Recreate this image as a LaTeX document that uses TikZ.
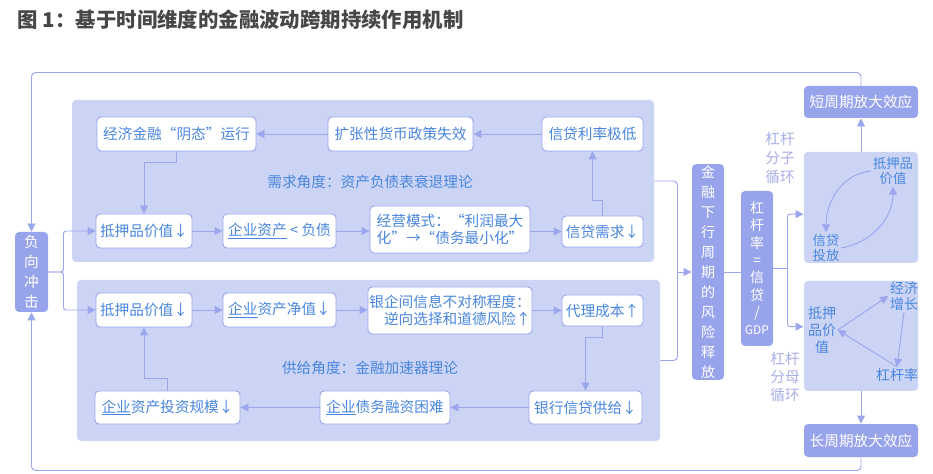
\documentclass[tikz,border=0pt]{standalone}
\usepackage{fontspec}
\setmainfont{Noto Sans CJK SC}
\usetikzlibrary{arrows.meta}
\definecolor{panelc}{HTML}{CBD4F4}
\definecolor{linec}{HTML}{9BA6EC}
\definecolor{darkc}{HTML}{97A4EC}
\definecolor{textc}{HTML}{4A86DE}
\definecolor{labc}{HTML}{A8AFE6}
\definecolor{titc}{HTML}{474747}

\begin{document}
\begin{tikzpicture}[x=0.75pt,y=-0.75pt,font=\fontsize{11pt}{13pt}\selectfont,line width=0.7pt,
    sz/.style 2 args={minimum width=#1*0.75pt,minimum height=#2*0.75pt},
    box/.style={draw=linec,fill=white,rounded corners=3pt,text=textc,inner sep=1pt,align=center},
    dark/.style={fill=darkc,rounded corners=3pt,text=white,inner sep=1pt,align=center},
    panel/.style={fill=panelc,rounded corners=3pt,inner sep=0pt},
    lbl/.style={text=textc,align=center,inner sep=1pt},
    line/.style={draw=linec},
    arr/.style={draw=linec,-{Triangle[length=6pt,width=6pt]}}]
        \useasboundingbox (0,0) rectangle (933,474);
        \node[anchor=west,text=titc,font=\fontsize{15.3pt}{17pt}\selectfont\bfseries] (tit) at (13,20) {图 1：基于时间维度的金融波动跨期持续作用机制};
        % two panels
        \node[panel,sz={582}{162}] (d0) at (363,181) {};
        \node[panel,sz={583}{161}] (s0) at (368.5,360.5) {};
        \node[lbl] (dt) at (370,182) {需求角度：资产负债表衰退理论};
        \node[lbl] (st) at (370,368) {供给角度：金融加速器理论};
        \node[dark,sz={33}{80},font=\fontsize{11pt}{15pt}\selectfont] (fx) at (31.5,272) {负\\向\\冲\\击};
        % demand side
        \node[box,sz={159}{34}] (d1) at (176.5,134) {经济金融“阴态”运行};
        \node[box,sz={145}{34}] (d2) at (400.5,134) {扩张性货币政策失效};
        \node[box,sz={101}{34}] (d3) at (592.5,134) {信贷利率极低};
        \node[box,sz={96}{34}] (d4) at (144,231) {抵押品价值↓};
        \node[box,sz={113}{34}] (d5) at (279.5,231) {\underline{企业资产} < 负债};
        \node[box,sz={160}{47}] (d6) at (450,229.5) {经营模式：“利润最大\\化”→“债务最小化”};
        \node[box,sz={81}{31}] (d7) at (602.5,231.5) {信贷需求↓};
        % supply side
        \node[box,sz={96}{34}] (s1) at (144,310) {抵押品价值↓};
        \node[box,sz={113}{34}] (s2) at (279.5,310) {\underline{企业}资产净值↓};
        \node[box,sz={160}{47},align=right] (s3) at (450,310.5) {银企间信息不对称程度：\\逆向选择和道德风险↑};
        \node[box,sz={81}{31}] (s4) at (602.5,310.5) {代理成本↑};
        \node[box,sz={113}{33}] (s5) at (585.5,407.5) {银行信贷供给↓};
        \node[box,sz={130}{33}] (s6) at (385,407.5) {\underline{企业}债务融资困难};
        \node[box,sz={145}{33}] (s7) at (167.5,407.5) {\underline{企业}资产投资规模↓};
        % middle column
        \node[dark,sz={32}{208},font=\fontsize{10.5pt}{15pt}\selectfont] (jr) at (708,272) {金\\融\\下\\行\\周\\期\\的\\风\\险\\释\\放};
        \node[dark,sz={32}{155},font=\fontsize{10.5pt}{13pt}\selectfont] (gg) at (757,268.5) {杠\\杆\\率\\=\\信\\贷\\/\\{\fontsize{9pt}{13pt}\selectfont GDP}};
        % right column
        \node[dark,sz={114}{32}] (dq) at (861,102) {短周期放大效应};
        \node[panel,sz={114}{111}] (fz) at (861,207.5) {};
        \node[panel,sz={114}{110}] (fm) at (861,336) {};
        \node[dark,sz={114}{33}] (cq) at (861,440.5) {长周期放大效应};
        \node[text=labc,align=center,font=\fontsize{11pt}{14.3pt}\selectfont] (lb1) at (780,158) {杠杆\\分子\\循环};
        \node[text=labc,align=center,font=\fontsize{11pt}{13.5pt}\selectfont] (lb2) at (785,377) {杠杆\\分母\\循环};
        \node[lbl,font=\fontsize{10pt}{11.5pt}\selectfont] (z1) at (893,171) {抵押品\\价值};
        \node[lbl,font=\fontsize{10pt}{11.5pt}\selectfont] (z2) at (826,248) {信贷\\投放};
        \node[lbl,font=\fontsize{10.5pt}{12.7pt}\selectfont] (m1) at (822,330) {抵押\\品价\\值};
        \node[lbl,font=\fontsize{10.5pt}{12pt}\selectfont] (m2) at (904,296) {经济\\增长};
        \node[lbl,font=\fontsize{10.5pt}{12pt}\selectfont] (m3) at (897,375) {杠杆率};
        % connectors
        \draw[arr] (d3) -- (d2);
        \draw[arr] (d2) -- (d1);
        \draw[arr] (d1.south) -- ++(0,11) -| (d4.north);
        \draw[arr] (d4) -- (d5);
        \draw[arr] (d5) -- (d6.west |- d5);
        \draw[arr] (d6.east |- d7) -- (d7);
        \draw[arr] (d7.north) -- ++(0,-15) -| (d3.south);
        \draw[arr] (s1) -- (s2);
        \draw[arr] (s2) -- (s3.west |- s2);
        \draw[arr] (s3.east |- s4) -- (s4);
        \draw[arr] (s4.south) -- ++(0,11) -| (s5.north);
        \draw[arr] (s5) -- (s6);
        \draw[arr] (s6) -- (s7);
        \draw[arr] (s7.north) -- ++(0,-12) -| (s1.south);
        \draw[arr,rounded corners=2pt] (fx.east) -- ++(15,0) |- (d4.west);
        \draw[arr,rounded corners=2pt] (fx.east) -- ++(15,0) |- (s1.west);
        \draw[arr,rounded corners=3pt] (dq.north) -- ++(0,-13) -| (fx.north);
        \draw[arr,rounded corners=3pt] (cq.south) -- ++(0,13) -| (fx.south);
        \draw[line,rounded corners=3pt] (d0.east) -- ++(23,0) |- (s0.east);
        \coordinate (br) at (677,272);
        \draw[arr] (br) -- (jr.west);
        \draw[line] (jr.east) -- (jr.east -| gg.west);
        \draw[line] (gg.east) -- ++(14,0) coordinate (sp);
        \draw[arr,rounded corners=2pt] (sp) |- ([yshift=-5pt]fz.west);
        \draw[arr,rounded corners=2pt] (sp) |- ([yshift=7pt]fm.west);
        \draw[arr] (fz.north) -- (dq.south);
        \draw[arr] (fm.south) -- (cq.north);
        \draw[arr] (z1.west) to[out=185,in=90] (z2.north);
        \draw[arr] (z2.east) to[out=10,in=270] (z1.south);
        \draw[arr] (m1.east) -- (m2.west);
        \draw[arr] (m2.south) -- (m3.north);
        \draw[arr] (m3.north) -- (m1.east);
    \end{tikzpicture}
\end{document}
